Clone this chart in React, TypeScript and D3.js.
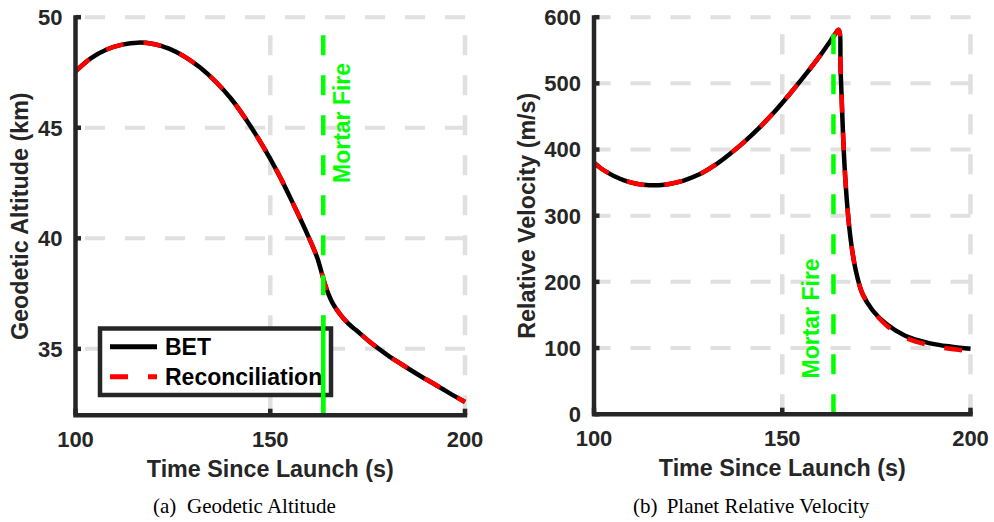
import React from 'react';
import * as d3 from 'd3';

// ---- Geodetic altitude (km) vs time since launch (s) ----
const altTime = [100, 104, 108, 112, 116, 120, 124, 128, 132, 136, 140, 144, 148, 152, 156, 160, 162, 164, 165, 166, 168, 170, 172, 176, 180, 184, 188, 192, 196, 200];
const altBET = [47.55, 48.15, 48.54, 48.76, 48.85, 48.79, 48.58, 48.22, 47.72, 47.08, 46.3, 45.32, 44.2, 42.95, 41.52, 40.0, 39.15, 37.95, 37.45, 37.07, 36.55, 36.15, 35.85, 35.25, 34.73, 34.27, 33.83, 33.42, 33.0, 32.6];
const altRecon = [47.55, 48.15, 48.54, 48.76, 48.85, 48.79, 48.58, 48.22, 47.72, 47.08, 46.3, 45.32, 44.2, 42.95, 41.52, 40.0, 39.15, 37.95, 37.45, 37.07, 36.55, 36.15, 35.85, 35.25, 34.73, 34.27, 33.83, 33.42, 33.0, 32.6];

// ---- Planet relative velocity (m/s) vs time since launch (s) ----
const velTime = [100, 102, 104, 106, 108, 110, 112, 114, 116, 118, 120, 124, 128, 132, 136, 140, 144, 148, 152, 156, 160, 162, 164, 165, 165.5, 166, 166.5, 167.3, 168.2, 169.5, 171.3, 174, 177.5, 182.5, 189, 195, 200];
const velBET = [380, 371, 364, 358, 353.5, 350, 347.6, 346.3, 346, 346.5, 348, 353.5, 362.5, 376, 393, 412, 433.5, 457.5, 484, 512, 541.5, 557.5, 574, 581, 520, 444, 380, 313, 263, 218, 182, 157, 137, 119, 107.5, 102, 99];
const velRecon = [380, 371, 364, 358, 353.5, 350, 347.6, 346.3, 346, 346.5, 348, 353.5, 362.5, 376, 393, 412, 433.5, 457.5, 484, 512, 541.5, 557.5, 574, 581, 520, 444, 380, 313, 263, 218, 182, 157, 135, 116, 104.5, 98.5, 95];

// ---- Axes, ticks and event ----
const xDomain = [100, 200];
const xTicks = [100, 150, 200];
const altDomain = [32, 50];
const altTicks = [35, 40, 45, 50];
const velDomain = [0, 600];
const velTicks = [0, 100, 200, 300, 400, 500, 600];
const mortarTime = 163.6;
const mortarAltLabelAt = 42.5;
const mortarVelLabelAt = 54;
const mortarAltSolidSpan = [32, 36.5];
const seriesNames = ['BET', 'Reconciliation'];

const SANS = '"Liberation Sans", Arial, Helvetica, sans-serif';
const SERIF = '"Liberation Serif", "Times New Roman", serif';
const AXIS = '#262626';
const GRID = '#e0e0e0';
const GREEN = '#00ff00';

type PanelProps = {
  x0: number;
  x1: number;
  yTop: number;
  yBot: number;
  yDomain: number[];
  yTicks: number[];
  times: number[];
  bet: number[];
  recon: number[];
  yLabel: string;
  yLabelX: number;
  mortarLabelValue: number;
  mortarLabelOffset: number;
  solidSpan?: number[];
  showLegend?: boolean;
  caption: [string, string];
  captionX: [number, number];
};

function Panel(p: PanelProps) {
  const xs = d3.scaleLinear().domain(xDomain).range([p.x0, p.x1]);
  const ys = d3.scaleLinear().domain(p.yDomain).range([p.yBot, p.yTop]);
  const line = d3
    .line<number>()
    .x((_, i) => xs(p.times[i]))
    .y((v) => ys(v))
    .curve(d3.curveCatmullRom.alpha(0.5));
  const betPath = line(p.bet) || '';
  const reconPath = line(p.recon) || '';
  const mx = xs(mortarTime);
  const [y0, y1] = p.yDomain;

  return (
    <g>
      {/* grid: horizontal lines drawn right-to-left, vertical bottom-to-top */}
      {p.yTicks
        .filter((t) => t !== y0)
        .map((t) => (
          <path
            key={'gy' + t}
            d={`M${xs(xDomain[1])},${ys(t)}L${xs(xDomain[0])},${ys(t)}`}
            stroke={GRID}
            strokeWidth={4}
            strokeDasharray="20,20"
            fill="none"
          />
        ))}
      {xTicks
        .filter((t) => t !== xDomain[0])
        .map((t) => (
          <path
            key={'gx' + t}
            d={`M${xs(t)},${ys(y0)}L${xs(t)},${ys(y1)}`}
            stroke={GRID}
            strokeWidth={4.5}
            strokeDasharray="20,20"
            fill="none"
          />
        ))}

      {/* trajectories */}
      <path d={betPath} stroke="#000" strokeWidth={4.5} fill="none" />
      <path d={reconPath} stroke="#ff0000" strokeWidth={4.5} fill="none" strokeDasharray="18,20" />

      {/* mortar fire event */}
      <path
        d={`M${mx},${ys(y0)}L${mx},${ys(y1)}`}
        stroke={GREEN}
        strokeWidth={4.5}
        strokeDasharray="20,20"
        fill="none"
      />
      <text
        transform={`translate(${mx + p.mortarLabelOffset},${ys(p.mortarLabelValue)}) rotate(-90)`}
        fontFamily={SANS}
        fontWeight="bold"
        fontSize={23}
        fill={GREEN}
      >
        Mortar Fire
      </text>

      {/* legend */}
      {p.showLegend && (
        <g>
          <rect x={100} y={328.5} width={231} height={66.5} fill="#fff" stroke={AXIS} strokeWidth={4.5} />
          <line x1={110} x2={157} y1={346.7} y2={346.7} stroke="#000" strokeWidth={5} />
          <text x={165} y={355} fontFamily={SANS} fontWeight="bold" fontSize={23} fill="#000">
            {seriesNames[0]}
          </text>
          <line x1={110} x2={157} y1={376.7} y2={376.7} stroke="#ff0000" strokeWidth={5} strokeDasharray="18,20" />
          <text x={165} y={385} fontFamily={SANS} fontWeight="bold" fontSize={23} fill="#000">
            {seriesNames[1]}
          </text>
        </g>
      )}
      {p.solidSpan && (
        <path
          d={`M${mx},${ys(p.solidSpan[0])}L${mx},${ys(p.solidSpan[1])}`}
          stroke={GREEN}
          strokeWidth={4.5}
          fill="none"
        />
      )}

      {/* axes */}
      <path
        d={`M${p.x0},${p.yTop - 2}L${p.x0},${p.yBot}L${p.x1 + 2.25},${p.yBot}`}
        stroke={AXIS}
        strokeWidth={4.5}
        fill="none"
        strokeLinejoin="miter"
      />
      {p.yTicks.map((t) => (
        <g key={'yt' + t}>
          <line x1={p.x0} x2={p.x0 + 5.5} y1={ys(t)} y2={ys(t)} stroke={AXIS} strokeWidth={4.5} />
          <text
            x={p.x0 - 13}
            y={ys(t)}
            dy="0.36em"
            textAnchor="end"
            fontFamily={SANS}
            fontWeight="bold"
            fontSize={22}
            fill={AXIS}
          >
            {t}
          </text>
        </g>
      ))}
      {xTicks.map((t) => (
        <g key={'xt' + t}>
          <line x1={xs(t)} x2={xs(t)} y1={p.yBot} y2={p.yBot - 6.5} stroke={AXIS} strokeWidth={4.5} />
          <text
            x={xs(t)}
            y={p.yBot + 32}
            textAnchor="middle"
            fontFamily={SANS}
            fontWeight="bold"
            fontSize={22}
            fill={AXIS}
          >
            {t}
          </text>
        </g>
      ))}
      <text
        x={(p.x0 + p.x1) / 2}
        y={p.yBot + 62}
        textAnchor="middle"
        fontFamily={SANS}
        fontWeight="bold"
        fontSize={23.3}
        fill={AXIS}
      >
        Time Since Launch (s)
      </text>
      <text
        transform={`translate(${p.yLabelX},${(p.yTop + p.yBot) / 2}) rotate(-90)`}
        textAnchor="middle"
        fontFamily={SANS}
        fontWeight="bold"
        fontSize={23.3}
        fill={AXIS}
      >
        {p.yLabel}
      </text>

      {/* subfigure caption */}
      <text y={513} fontFamily={SERIF} fontSize={21} fill="#000">
        <tspan x={p.captionX[0]}>{p.caption[0]}</tspan>
        <tspan x={p.captionX[1]}>{p.caption[1]}</tspan>
      </text>
    </g>
  );
}

export default function App() {
  return (
    <svg
      width={994}
      height={522}
      viewBox="0 0 994 522"
      style={{ position: 'absolute', left: 0, top: 0, background: '#fff' }}
    >
      <rect width={994} height={522} fill="#fff" />
      <Panel
        x0={75.5}
        x1={465}
        yTop={17.2}
        yBot={415.2}
        yDomain={altDomain}
        yTicks={altTicks}
        times={altTime}
        bet={altBET}
        recon={altRecon}
        yLabel="Geodetic Altitude (km)"
        yLabelX={28}
        mortarLabelValue={mortarAltLabelAt}
        mortarLabelOffset={27}
        solidSpan={mortarAltSolidSpan}
        showLegend
        caption={['(a)', 'Geodetic Altitude']}
        captionX={[153, 187]}
      />
      <Panel
        x0={594}
        x1={970.5}
        yTop={17.2}
        yBot={414.2}
        yDomain={velDomain}
        yTicks={velTicks}
        times={velTime}
        bet={velBET}
        recon={velRecon}
        yLabel="Relative Velocity (m/s)"
        yLabelX={535}
        mortarLabelValue={mortarVelLabelAt}
        mortarLabelOffset={-14}
        caption={['(b)', 'Planet Relative Velocity']}
        captionX={[633, 666.7]}
      />
    </svg>
  );
}
